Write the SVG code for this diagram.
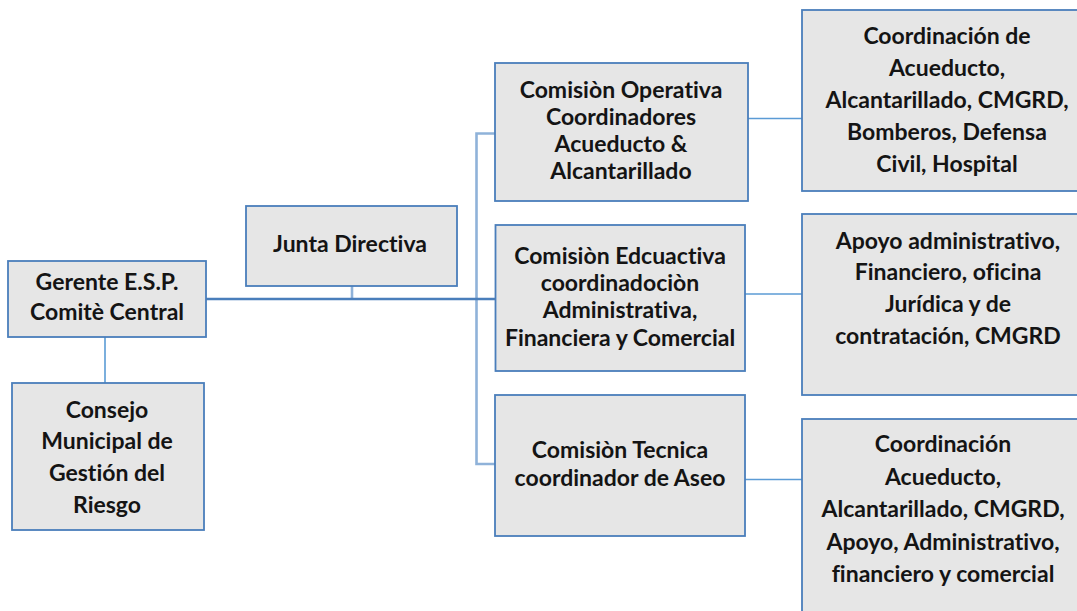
<svg xmlns="http://www.w3.org/2000/svg" width="1077" height="611" viewBox="0 0 1077 611">
<style>
.box{fill:#e6e6e6;stroke:#4a7ebb;stroke-width:1.8}
.t{font-family:Lato,"Liberation Sans",sans-serif;font-weight:bold;font-size:23px;fill:#141414;text-anchor:middle;font-variant-ligatures:none;font-feature-settings:"liga" 0,"clig" 0,"dlig" 0}
.c{fill:none;stroke:#5b9bd5;stroke-width:1.6}
.main{fill:none;stroke:#4a7ebb;stroke-width:2.6}
.light{fill:none;stroke:#8fb2d9;stroke-width:2.6}
</style>
<rect width="1077" height="611" fill="#ffffff"/>
<g id="connectors">
<line class="c" x1="105" y1="337" x2="105" y2="383"/>
<line class="light" x1="352" y1="286" x2="352" y2="299"/>
<polyline class="light" points="495,133.5 476.5,133.5 476.5,464 495,464"/>
<line class="main" x1="206" y1="299" x2="495" y2="299"/>
<line class="c" x1="748" y1="118.5" x2="802" y2="118.5"/>
<line class="c" x1="745" y1="294" x2="802" y2="294"/>
<line class="c" x1="745" y1="479.5" x2="802" y2="479.5"/>
</g>
<g id="gerente">
<rect class="box" x="8" y="261" width="198" height="76"/>
<text class="t" x="107" y="290">Gerente E.S.P.</text>
<text class="t" x="107" y="320">Comitè Central</text>
</g>
<g id="consejo">
<rect class="box" x="12" y="383" width="192" height="147"/>
<text class="t" x="107" y="418">Consejo</text>
<text class="t" x="107" y="449">Municipal de</text>
<text class="t" x="107" y="481">Gestión del</text>
<text class="t" x="107" y="513">Riesgo</text>
</g>
<g id="junta">
<rect class="box" x="246" y="206" width="211" height="80"/>
<text class="t" x="350" y="252">Junta Directiva</text>
</g>
<g id="operativa">
<rect class="box" x="495" y="63" width="253" height="138"/>
<text class="t" x="621" y="98">Comisiòn Operativa</text>
<text class="t" x="621" y="125">Coordinadores</text>
<text class="t" x="621" y="152">Acueducto &amp;</text>
<text class="t" x="621" y="179">Alcantarillado</text>
</g>
<g id="educativa">
<rect class="box" x="495.5" y="225" width="249.5" height="146"/>
<text class="t" x="620" y="264">Comisiòn Edcuactiva</text>
<text class="t" x="620" y="291">coordinadociòn</text>
<text class="t" x="620" y="318">Administrativa,</text>
<text class="t" x="620" y="346">Financiera y Comercial</text>
</g>
<g id="tecnica">
<rect class="box" x="495" y="395" width="250" height="141"/>
<text class="t" x="620" y="458">Comisiòn Tecnica</text>
<text class="t" x="620" y="486">coordinador de Aseo</text>
</g>
<g id="coord1">
<rect class="box" x="802" y="10" width="300" height="181"/>
<text class="t" x="947" y="44">Coordinación de</text>
<text class="t" x="947" y="76">Acueducto,</text>
<text class="t" x="947" y="108">Alcantarillado, CMGRD,</text>
<text class="t" x="947" y="140">Bomberos, Defensa</text>
<text class="t" x="947" y="172">Civil, Hospital</text>
</g>
<g id="apoyo">
<rect class="box" x="802" y="214" width="300" height="181"/>
<text class="t" x="948" y="249">Apoyo administrativo,</text>
<text class="t" x="948" y="280">Financiero, oficina</text>
<text class="t" x="948" y="312">Jurídica y de</text>
<text class="t" x="948" y="344">contratación, CMGRD</text>
</g>
<g id="coord2">
<rect class="box" x="802" y="419" width="300" height="220"/>
<text class="t" x="943" y="452">Coordinación</text>
<text class="t" x="943" y="485">Acueducto,</text>
<text class="t" x="943" y="517">Alcantarillado, CMGRD,</text>
<text class="t" x="943" y="550">Apoyo, Administrativo,</text>
<text class="t" x="943" y="582">financiero y comercial</text>
</g>
</svg>
